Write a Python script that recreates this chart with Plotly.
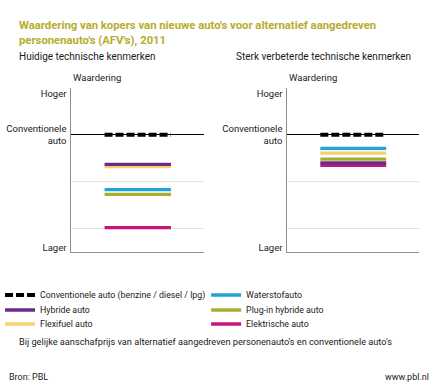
import plotly.graph_objects as go

# ---- data -------------------------------------------------------------
series_names = [
    "Conventionele auto (benzine / diesel / lpg)",
    "Hybride auto",
    "Flexifuel auto",
    "Waterstofauto",
    "Plug-in hybride auto",
    "Elektrische auto",
]
huidige = [0.0, -0.63, -0.68, -1.17, -1.27, -1.98]      # Huidige technische kenmerken
verbeterd = [0.0, -0.60, -0.39, -0.29, -0.52, -0.65]    # Sterk verbeterde technische kenmerken
panel_titles = ["Huidige technische kenmerken", "Sterk verbeterde technische kenmerken"]
tick_labels = ["Hoger", "Conventionele<br>auto", "Lager"]

# ---- styling ----------------------------------------------------------
colors = ["#000000", "#6a2a8c", "#f5d36c", "#22a3da", "#a9ae2e", "#c8157c"]
draw_order = [3, 4, 2, 5, 1, 0]
legend_slots = {0: (0, 0), 1: (0, 1), 2: (0, 2), 3: (1, 0), 4: (1, 1), 5: (1, 2)}
W, H = 434, 386
FONT = "Roboto"
TXT = "#1a1a1a"


def px(x, y):
    return x / W, 1 - y / H


fig = go.Figure()
x_span = [1, 3]

for panel, vals in enumerate([huidige, verbeterd]):
    xa = "x" if panel == 0 else "x2"
    ya = "y" if panel == 0 else "y2"
    for i in draw_order:
        is_conv = i == 0
        fig.add_trace(go.Scatter(
            x=x_span, y=[vals[i], vals[i]],
            mode="lines",
            name=series_names[i],
            line=dict(color=colors[i], width=4 if is_conv else 3.3,
                      dash="8px,3px" if is_conv else "solid"),
            xaxis=xa, yaxis=ya,
            showlegend=(panel == 0),
            legend="legend" if i == 0 else f"legend{i + 1}",
            hoverinfo="skip",
        ))

ax_common_y = dict(
    range=[-2.5, 1], fixedrange=True,
    tickmode="array", tickvals=[0.87, 0, -2.4], ticktext=tick_labels,
    ticks="", showgrid=False, ticklabelstandoff=2,
    minor=dict(tickmode="array", tickvals=[1, -1, -2], showgrid=True,
               gridcolor="#e3e3e3", gridwidth=1, ticks=""),
    zeroline=True, zerolinecolor="#000000", zerolinewidth=1.3,
    showline=True, linecolor="#8f8f8f", linewidth=1,
    tickfont=dict(family=FONT, size=9.5, color=TXT),
    automargin=False,
)
ax_common_x = dict(
    range=[0, 4], fixedrange=True, showticklabels=False, ticks="",
    showgrid=False, zeroline=False,
    showline=True, linecolor="#8f8f8f", linewidth=1, automargin=False,
)

y_dom = [1 - 252 / H, 1 - 88 / H]
fig.update_layout(
    width=W, height=H,
    margin=dict(l=0, r=0, t=0, b=0),
    paper_bgcolor="white", plot_bgcolor="white",
    font=dict(family=FONT, size=9.5, color=TXT),
    xaxis=dict(domain=[68 / W, 202 / W], anchor="y", **ax_common_x),
    yaxis=dict(domain=y_dom, anchor="x", **ax_common_y),
    xaxis2=dict(domain=[286 / W, 419 / W], anchor="y2", **ax_common_x),
    yaxis2=dict(domain=y_dom, anchor="x2", **ax_common_y),
)

# legends: one per entry, placed on a 2 x 3 grid
col_x = [-4, 204]
row_y = [295, 310, 324]
for i in range(len(series_names)):
    col, row = legend_slots[i]
    key = "legend" if i == 0 else f"legend{i + 1}"
    lx, ly = px(col_x[col], row_y[row])
    fig.layout[key] = dict(
        x=lx, y=ly, xanchor="left", yanchor="middle",
        bgcolor="rgba(0,0,0,0)", borderwidth=0,
        font=dict(family=FONT, size=8.8, color=TXT),
        itemclick=False, itemdoubleclick=False,
    )

ann = []
tx, ty = px(13, 17)
ann.append(dict(x=tx, y=ty, xref="paper", yref="paper", xanchor="left", yanchor="top",
                align="left", showarrow=False,
                text="<b>Waardering van kopers van nieuwe auto's voor alternatief aangedreven<br>"
                     "personenauto's (AFV's), 2011</b>",
                font=dict(family=FONT, size=11.3, color="#b5ad2c")))
for j, (sx, title) in enumerate(zip([13, 232], panel_titles)):
    ax_, ay_ = px(sx, 57)
    ann.append(dict(x=ax_, y=ay_, xref="paper", yref="paper", xanchor="left", yanchor="middle",
                    showarrow=False, text=title, font=dict(family=FONT, size=10, color=TXT)))
for sx in [68, 286]:
    ax_, ay_ = px(sx, 77)
    ann.append(dict(x=ax_, y=ay_, xref="paper", yref="paper", xanchor="left", yanchor="middle",
                    showarrow=False, text="Waardering", font=dict(family=FONT, size=9.5, color=TXT)))
ax_, ay_ = px(13, 341)
ann.append(dict(x=ax_, y=ay_, xref="paper", yref="paper", xanchor="left", yanchor="middle",
                showarrow=False,
                text="Bij gelijke aanschafprijs van alternatief aangedreven personenauto's en conventionele auto's",
                font=dict(family=FONT, size=9.2, color=TXT)))
ax_, ay_ = px(3, 377)
ann.append(dict(x=ax_, y=ay_, xref="paper", yref="paper", xanchor="left", yanchor="middle",
                showarrow=False, text="Bron: PBL", font=dict(family=FONT, size=9, color=TXT)))
ax_, ay_ = px(431, 377)
ann.append(dict(x=ax_, y=ay_, xref="paper", yref="paper", xanchor="right", yanchor="middle",
                showarrow=False, text="www.pbl.nl", font=dict(family=FONT, size=9, color=TXT)))
fig.update_layout(annotations=ann)

fig.write_html(
    "out.html",
    config={"displayModeBar": False},
    post_script="document.body.style.margin='0px';document.body.style.overflow='hidden';",
)
